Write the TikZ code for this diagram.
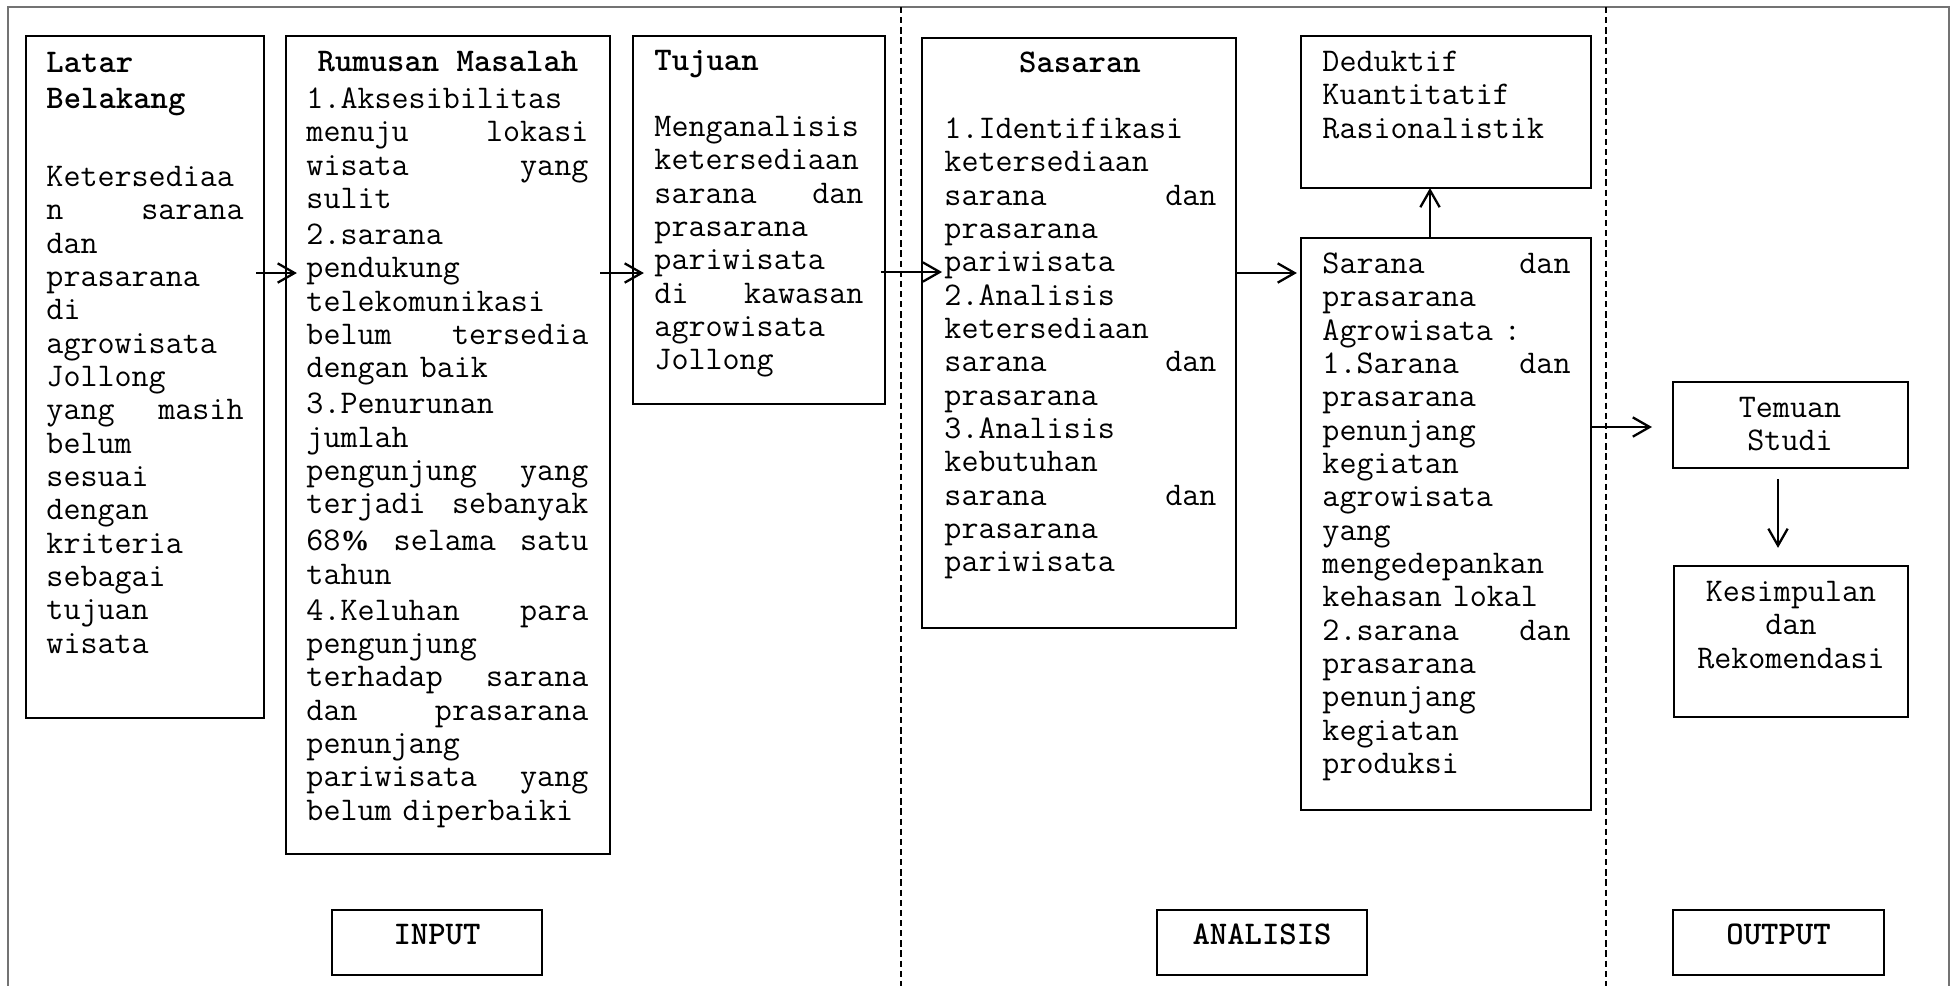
\documentclass[tikz,border=0pt]{standalone}
\usepackage{fontspec}
\newfontfamily\tnr{Liberation Serif}
\usetikzlibrary{arrows.meta,fit}
\newcommand\fs{\rule{0pt}{10pt}}
\newcommand\cour{\ttfamily}
\begin{document}
\begin{tikzpicture}[x=0.414pt,y=-0.414pt,
  box/.style={draw=black,line width=0.6pt,inner sep=0pt,outer sep=0pt},
  txt/.style={anchor=north west,inner sep=0pt,align=left,font=\cour\fontsize{13.7}{13.8}\selectfont},
  ctxt/.style={anchor=north,inner sep=0pt,align=center,font=\cour\fontsize{13.7}{13.8}\selectfont},
  hd/.style={anchor=base,inner sep=0pt,font=\cour\bfseries\fontsize{13.7}{13.8}\selectfont},
  arr/.style={line width=0.9pt,-{Straight Barb[length=7pt,width=8pt,line width=0.95pt]}},
  sep/.style={line width=0.6pt,dash pattern=on 2.6pt off 1.6pt},
  frame/.style={draw=black!55,line width=0.6pt}]
\useasboundingbox (0,0) rectangle (1955,986);
% outer frame (open at the bottom)
\draw[frame] (8,986) -- (8,7) -- (1949,7) -- (1949,986);
% section separators
\draw[sep] (901,7) -- (901,986);
\draw[sep] (1606,7) -- (1606,986);

% boxes
\node[box,fit={(26,36) (264,718)}] (latar) {};
\node[box,fit={(286,36) (610,854)}] (rum) {};
\node[box,fit={(633,36) (885,404)}] (tuj) {};
\node[box,fit={(922,38) (1236,628)}] (sas) {};
\node[box,fit={(1301,36) (1591,188)}] (ded) {};
\node[box,fit={(1301,238) (1591,810)}] (sar) {};
\node[box,fit={(1673,382) (1908,468)}] (tem) {};
\node[box,fit={(1674,566) (1908,717)}] (kes) {};
\node[box,fit={(332,910) (542,975)}] (inp) {};
\node[box,fit={(1157,910) (1367,975)}] (ana) {};
\node[box,fit={(1673,910) (1884,975)}] (out) {};

% Latar Belakang
\node[hd,anchor=base west] (latarh1) at (46,72) {Latar};
\node[hd,anchor=base west] (latarh2) at (46,108) {Belakang};
\node[txt,text width=81.6pt] (latart) at (46,162) {\fs Ketersediaa\\ n\hfill sarana\\ dan\\ prasarana\\ di\\ agrowisata\\ Jollong\\ yang\hfill masih\\ belum\\ sesuai\\ dengan\\ kriteria\\ sebagai\\ tujuan\\ wisata};

% Rumusan Masalah
\node[hd] (rumh) at (448,71) {Rumusan Masalah};
\node[txt,text width=116.7pt] (rumt) at (306,84) {\fs 1.Aksesibilitas\\ menuju\hfill lokasi\\ wisata\hfill yang\\ sulit\\[1.1pt] 2.sarana\\ pendukung\\ telekomunikasi\\ belum\hfill tersedia\\ dengan baik\\[1.1pt] 3.Penurunan\\ jumlah\\ pengunjung\hfill yang\\ terjadi\hfill sebanyak\\[1.5pt] 68{\tnr\bfseries\fontsize{12}{13.8}\selectfont\%}\hfill selama\hfill satu\\ tahun\\[1.1pt] 4.Keluhan\hfill para\\ pengunjung\\ terhadap\hfill sarana\\ dan\hfill prasarana\\ penunjang\\ pariwisata\hfill yang\\ belum diperbaiki};

% Tujuan
\node[hd,anchor=base west] (tujh) at (654,70) {Tujuan};
\node[txt,text width=86.5pt] (tujt) at (654,112) {\fs Menganalisis\\ ketersediaan\\ sarana\hfill dan\\ prasarana\\ pariwisata\\ di\hfill kawasan\\ agrowisata\\ Jollong};

% Sasaran
\node[hd] (sash) at (1080,72) {Sasaran};
\node[txt,text width=112.6pt] (sast) at (944,114) {\fs 1.Identifikasi\\ ketersediaan\\ sarana\hfill dan\\ prasarana\\ pariwisata\\ 2.Analisis\\ ketersediaan\\ sarana\hfill dan\\ prasarana\\ 3.Analisis\\ kebutuhan\\ sarana\hfill dan\\ prasarana\\ pariwisata};

% Deduktif
\node[txt] (dedt) at (1322,47) {\fs Deduktif\\ Kuantitatif\\ Rasionalistik};

% Sarana dan prasarana Agrowisata
\node[txt,text width=102.7pt] (sart) at (1322,249) {\fs Sarana\hfill dan\\ prasarana\\ Agrowisata :\\ 1.Sarana\hfill dan\\ prasarana\\ penunjang\\ kegiatan\\ agrowisata\\ yang\\ mengedepankan\\ kehasan lokal\\ 2.sarana\hfill dan\\ prasarana\\ penunjang\\ kegiatan\\ produksi};

% Output boxes
\node[ctxt] (temt) at (1790,393) {\fs Temuan\\ Studi};
\node[ctxt] (kest) at (1791,577) {\fs Kesimpulan\\ dan\\ Rekomendasi};

% section labels
\node[hd] (inpt) at (437,944) {INPUT};
\node[hd] (anat) at (1262,944) {ANALISIS};
\node[hd] (outt) at (1778.5,944) {OUTPUT};

% connectors
\coordinate (ya) at (0,273);
\coordinate (yb) at (0,272);
\coordinate (xc) at (1430,0);
\coordinate (yd) at (0,427);
\coordinate (xe) at (1778,0);
\draw[arr,shorten <=-3.3pt,shorten >=-4.5pt] (latar.east |- ya) -- (rum.west |- ya);
\draw[arr,shorten <=-4.1pt,shorten >=-4.5pt] (rum.east |- ya) -- (tuj.west |- ya);
\draw[arr,shorten <=-1.7pt,shorten >=-8.3pt] (tuj.east |- yb) -- (sas.west |- yb);
\draw[arr,shorten >=1.7pt] (sas.east |- ya) -- (sar.west |- ya);
\draw[arr] (sar.north -| xc) -- (ded.south -| xc);
\draw[arr,shorten >=8.7pt] (sar.east |- yd) -- (tem.west |- yd);
\draw[arr,shorten <=4.5pt,shorten >=7.5pt] (tem.south -| xe) -- (kes.north -| xe);
\end{tikzpicture}
\end{document}
